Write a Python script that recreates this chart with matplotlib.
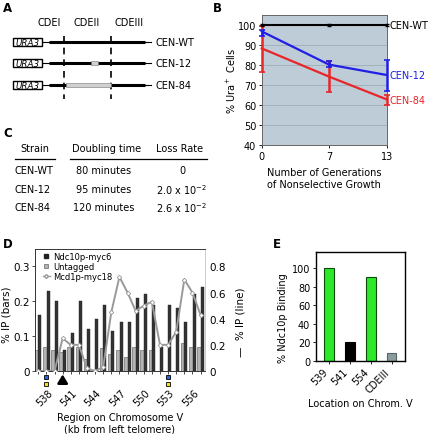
import matplotlib
matplotlib.use('Agg')
import matplotlib.pyplot as plt
from matplotlib.patches import Rectangle
from matplotlib.lines import Line2D
from matplotlib.transforms import blended_transform_factory, ScaledTranslation

plt.rcParams['font.family'] = ['DejaVu Sans']

# ---------------- data ----------------
# Panel A
cde_labels = ['CDEI', 'CDEII', 'CDEIII']
constructs = ['CEN-WT', 'CEN-12', 'CEN-84']

# Panel B
generations = [0, 7, 13]
wt_mean = [100, 100, 100]
wt_lo = [99.5, 99.5, 99.5]
wt_hi = [100.5, 100.5, 100.5]
cen12_mean = [96.8, 80.2, 75.0]
cen12_lo = [94.3, 78.8, 67.2]
cen12_hi = [97.7, 82.0, 82.7]
cen84_mean = [88.3, 74.2, 62.8]
cen84_lo = [76.7, 66.3, 60.0]
cen84_hi = [99.7, 82.0, 65.0]

# Panel C
table_header = ['Strain', 'Doubling time', 'Loss Rate']
table_strain = ['CEN-WT', 'CEN-12', 'CEN-84']
table_doubling = ['80 minutes', '95 minutes', '120 minutes']
table_loss = ['0', r'2.0 x 10$^{-2}$', r'2.6 x 10$^{-2}$']

# Panel D
regions_kb = list(range(538, 559))
ndc10_ip = [0.16, 0.23, 0.20, 0.06, 0.11, 0.20, 0.12, 0.15, 0.19, 0.115, 0.14,
            0.14, 0.21, 0.22, 0.19, 0.07, 0.19, 0.18, 0.14, 0.22, 0.24]
untagged_ip = [0.06, 0.07, 0.06, 0.055, 0.07, 0.07, 0.035, 0.0, 0.065, 0.048, 0.06,
               0.04, 0.068, 0.06, 0.06, 0.0, 0.0, 0.0, 0.08, 0.068, 0.068]
mcd1_ip = [0.0, 0.0, 0.0, 0.25, 0.2, 0.2, 0.02, 0.0, 0.03, 0.45, 0.72,
           0.6, 0.46, 0.5, 0.53, 0.2, 0.2, 0.3, 0.7, 0.6, 0.43]
tick_kb = [538, 541, 544, 547, 550, 553, 556]
marked_kb = [539, 554]
arrow_kb = 541

# Panel E
e_locations = ['539', '541', '554', 'CDEIII']
e_binding = [100, 20, 90, 8]
e_colors = ['#2ee82a', '#000000', '#2ee82a', '#8c9c9c']

# ---------------- figure ----------------
W, H = 428, 435
fig = plt.figure(figsize=(W / 100, H / 100), dpi=100)


def rect(l, t, r, b):
    return [l / W, 1 - b / H, (r - l) / W, (b - t) / H]


ov = fig.add_axes([0, 0, 1, 1])
ov.set_xlim(0, W)
ov.set_ylim(H, 0)
ov.set_autoscale_on(False)
ov.axis('off')

for lab, (x, y) in zip('ABCDE', [(3, 2), (213, 2), (3, 127), (3, 238), (273, 238)]):
    ov.text(x, y, lab, fontsize=8.5, fontweight='bold', ha='left', va='top')

# ---- Panel A schematic ----
for lab, x in zip(cde_labels, [49, 87, 129]):
    ov.text(x, 23, lab, fontsize=7, ha='center', va='center')
row_y = [42.7, 64, 86]
gaps = [None, (90.7, 97.7), (65.7, 111.0)]
ov.vlines([64.3, 110.7], 37, 100, colors='black', linewidth=1.2,
          linestyles=[(0, (4, 3))], zorder=1)
for name, y, gap in zip(constructs, row_y, gaps):
    ov.plot([41.7, 151.5], [y, y], color='black', lw=0.8, zorder=2)
    ov.plot([49.5, 145], [y, y], color='black', lw=2.2, solid_capstyle='butt', zorder=3)
    ov.add_patch(Rectangle((13.3, y - 4), 28.4, 8, facecolor='white', edgecolor='black', lw=1.0, zorder=4))
    ov.text(27.5, y + 0.3, 'URA3', fontsize=6.3, style='italic', ha='center', va='center', zorder=5)
    if gap is not None:
        ov.add_patch(Rectangle((gap[0], y - 1.8), gap[1] - gap[0], 3.6, facecolor='#d0d0d0',
                               edgecolor='#777777', lw=0.4, zorder=5))
    ov.text(156, y, name, fontsize=7, ha='left', va='center')

# ---- Panel C table ----
ov.text(35, 149, table_header[0], fontsize=7, ha='center', va='center')
ov.text(106.7, 149, table_header[1], fontsize=7, ha='center', va='center')
ov.text(180, 149, table_header[2], fontsize=7, ha='center', va='center')
ov.plot([15, 55], [160, 160], color='black', lw=0.9)
ov.plot([70, 207], [160, 160], color='black', lw=0.9)
for i, y in enumerate([170.7, 190, 208.3]):
    ov.text(15, y, table_strain[i], fontsize=7, ha='left', va='center')
    ov.text(104, y, table_doubling[i], fontsize=7, ha='center', va='center')
    ov.text(182, y, table_loss[i], fontsize=7, ha='center', va='center')

# ---- Panel B ----
axB = fig.add_axes(rect(261.7, 16, 386.7, 146))
axB.set_facecolor('#bdccd6')
axB.set_xlim(0, 13)
axB.set_ylim(40, 105)
axB.set_yticks([40, 50, 60, 70, 80, 90, 100])
axB.set_xticks(generations)
axB.yaxis.grid(True, color='#a2b2bd', lw=0.7)
axB.set_axisbelow(True)
for s in axB.spines.values():
    s.set_color('#666666')
    s.set_linewidth(0.7)
axB.tick_params(labelsize=7, length=2, width=0.6, pad=2)


def err(mean, lo, hi):
    return [[m - l for m, l in zip(mean, lo)], [h - m for m, h in zip(mean, hi)]]


axB.errorbar(generations, wt_mean, yerr=err(wt_mean, wt_lo, wt_hi), color='black', lw=1.5,
             elinewidth=1.0, capsize=1.5, clip_on=False, zorder=5)
axB.errorbar(generations, cen12_mean, yerr=err(cen12_mean, cen12_lo, cen12_hi), color='#1f1fe6', lw=1.6,
             elinewidth=1.8, capsize=2.2, capthick=1.2, clip_on=False, zorder=4)
axB.errorbar(generations, cen84_mean, yerr=err(cen84_mean, cen84_lo, cen84_hi), color='#e8262a', lw=1.6,
             elinewidth=1.8, capsize=2.2, capthick=1.2, clip_on=False, zorder=3)
tB = blended_transform_factory(axB.transAxes, axB.transData)
axB.text(1.026, 100, 'CEN-WT', color='black', fontsize=7, va='center', transform=tB)
axB.text(1.026, 75.0, 'CEN-12', color='#1f1fe6', fontsize=7, va='center', transform=tB)
axB.text(1.026, 62.3, 'CEN-84', color='#e8262a', fontsize=7, va='center', transform=tB)
axB.set_ylabel(r'% Ura$^+$ Cells', fontsize=7)
axB.yaxis.set_label_coords(-0.19, 0.5)
axB.set_xlabel('Number of Generations\nof Nonselective Growth', fontsize=7, linespacing=1.2)
axB.xaxis.set_label_coords(0.5, -0.17)

# ---- Panel D ----
axD = fig.add_axes(rect(35, 250, 205, 372))
n = len(regions_kb)
idx = list(range(n))
axD.bar([i - 0.2 for i in idx], untagged_ip, width=0.42, color='#b4b4b4', edgecolor='#555555', lw=0.4, zorder=2)
axD.bar([i + 0.2 for i in idx], ndc10_ip, width=0.38, color='#333333', edgecolor='#222222', lw=0.3, zorder=2)
axD.set_xlim(-0.41, 20.55)
axD.set_ylim(0, 0.35)
axD.set_yticks([0, 0.1, 0.2, 0.3])
axD.set_yticklabels(['0', '0.1', '0.2', '0.3'])
axD.set_xticks([regions_kb.index(k) for k in tick_kb])
axD.set_xticklabels([str(k) for k in tick_kb], rotation=45, ha='center')
axD.set_xticks(idx, minor=True)
axD.tick_params(axis='x', which='both', length=2, width=0.5, pad=10, labelsize=7)
axD.tick_params(axis='y', length=2, width=0.5, pad=2, labelsize=7.5)
off = ScaledTranslation(6 / 100, 0, fig.dpi_scale_trans)
for lbl in axD.get_xticklabels():
    lbl.set_transform(lbl.get_transform() + off)
for name, s in axD.spines.items():
    s.set_linewidth(0.7)
    s.set_color('#333333')
axD.spines['right'].set_color('#cccccc')

axD2 = axD.twinx()
axD2.plot(idx, mcd1_ip, color='#9a9a9a', lw=1.4, marker='D', markersize=2.3,
          markerfacecolor='white', markeredgecolor='#9a9a9a', markeredgewidth=0.6, zorder=5)
axD2.set_ylim(0, 0.35 * 8 / 3)
axD2.set_yticks([0, 0.2, 0.4, 0.6, 0.8])
axD2.set_yticklabels(['0', '0.2', '0.4', '0.6', '0.8'])
axD2.tick_params(axis='y', length=0, pad=3, labelsize=7.5)
for s in axD2.spines.values():
    s.set_visible(False)

tD = blended_transform_factory(axD.transData, axD.transAxes)
for k in marked_kb:
    i = regions_kb.index(k)
    axD.plot([i], [-0.047], marker='s', markersize=3.2, markerfacecolor='#2a63d6', markeredgecolor='black',
             markeredgewidth=0.6, transform=tD, clip_on=False)
    axD.plot([i], [-0.107], marker='s', markersize=3.2, markerfacecolor='#f2e21a', markeredgecolor='black',
             markeredgewidth=0.6, transform=tD, clip_on=False)
ia = regions_kb.index(arrow_kb)
axD.annotate('', xy=(ia, -0.005), xytext=(ia, -0.125), xycoords=tD, textcoords=tD,
             arrowprops=dict(arrowstyle='-|>,head_length=0.5,head_width=0.3', lw=1.8, color='black'),
             annotation_clip=False)

handles = [Line2D([], [], ls='none', marker='s', markersize=2.5, color='#222222'),
           Line2D([], [], ls='none', marker='s', markersize=2.5, markerfacecolor='#b4b4b4',
                  markeredgecolor='#666666', markeredgewidth=0.5),
           Line2D([], [], color='#9a9a9a', lw=1.0, marker='D', markersize=2.0, markerfacecolor='white')]
axD.legend(handles, ['Ndc10p-myc6', 'Untagged', 'Mcd1p-myc18'], loc='upper left',
           bbox_to_anchor=(0.03, 1.0), fontsize=6, frameon=False, handlelength=0.9,
           handletextpad=0.4, labelspacing=0.12, borderpad=0.3, borderaxespad=0)
axD.set_ylabel('% IP (bars)', fontsize=7.5)
axD.yaxis.set_label_coords(-0.14, 0.467)
axD2.set_ylabel('—  % IP (line)', fontsize=7.5)
axD2.yaxis.set_label_coords(1.18, 0.41)
axD.set_xlabel('Region on Chromosome V\n(kb from left telomere)', fontsize=7, linespacing=1.2)
axD.xaxis.set_label_coords(0.5, -0.335)

# ---- Panel E ----
axE = fig.add_axes(rect(315.7, 253.3, 405, 361.7))
axE.bar(range(len(e_locations)), e_binding, width=0.46, color=e_colors,
        edgecolor=['#0a4a0a', 'black', '#0a4a0a', '#556666'], lw=0.8)
axE.set_xlim(-0.65, 3.64)
axE.set_ylim(0, 117)
axE.set_yticks([0, 20, 40, 60, 80, 100])
axE.set_xticks(range(len(e_locations)))
axE.set_xticklabels(e_locations, rotation=45, ha='right')
axE.tick_params(axis='both', length=2, width=0.6, labelsize=7, pad=2)
for s in axE.spines.values():
    s.set_linewidth(1.0)
axE.set_ylabel('% Ndc10p Binding', fontsize=7)
axE.yaxis.set_label_coords(-0.31, 0.4)
axE.set_xlabel('Location on Chrom. V', fontsize=7)
axE.xaxis.set_label_coords(0.5, -0.345)

fig.savefig('out.png', dpi=100)
